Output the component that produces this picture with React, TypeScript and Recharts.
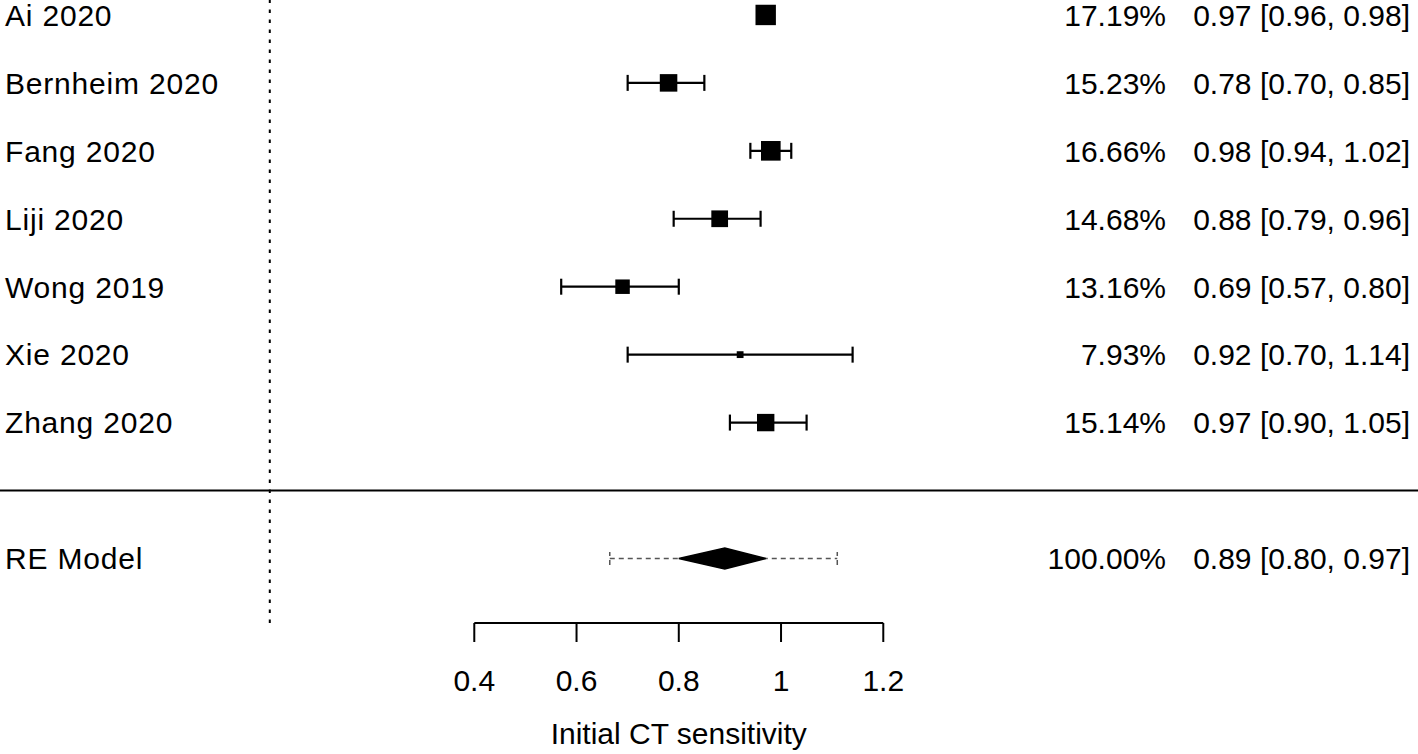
import { ScatterChart, Scatter, XAxis, YAxis, ErrorBar, ReferenceLine } from "recharts";

const studies = ["Ai 2020", "Bernheim 2020", "Fang 2020", "Liji 2020", "Wong 2019", "Xie 2020", "Zhang 2020"];
const estimates = [0.97, 0.78, 0.98, 0.88, 0.69, 0.92, 0.97];
const lowers = [0.96, 0.7, 0.94, 0.79, 0.57, 0.7, 0.9];
const uppers = [0.98, 0.85, 1.02, 0.96, 0.8, 1.14, 1.05];
const weights = [17.19, 15.23, 16.66, 14.68, 13.16, 7.93, 15.14];

const reLabel = "RE Model";
const reEstimate = 0.89;
const reLower = 0.8;
const reUpper = 0.97;
const reWeight = 100;
const predLower = 0.665;
const predUpper = 1.11;

const xTicks = [0.4, 0.6, 0.8, 1, 1.2];
const axisTitle = "Initial CT sensitivity";

const FONT = "'Liberation Sans', Arial, sans-serif";
const Y_MIN = -1.95;
const Y_MAX = 7.22;

const minW = Math.min(...weights);
const maxW = Math.max(...weights);

const studyRows = studies.map((name, i) => ({
  name,
  x: estimates[i],
  y: studies.length - i,
  lo: lowers[i],
  hi: uppers[i],
  weight: weights[i],
  err: [estimates[i] - lowers[i], uppers[i] - estimates[i]],
  // point size like metafor: scaled weights into [0.5, 1.5]
  psize: 0.5 + (weights[i] - minW) / (maxW - minW),
}));

const reRow = [
  {
    name: reLabel,
    x: reEstimate,
    y: -1,
    lo: reLower,
    hi: reUpper,
    weight: reWeight,
    err: [reEstimate - predLower, predUpper - reEstimate],
  },
];

const diamond = [
  { x: reLower, y: -1 },
  { x: reEstimate, y: -1 },
  { x: reUpper, y: -1 },
];

function RowText({ cy, row }: any) {
  const ci = `${row.x.toFixed(2)} [${row.lo.toFixed(2)}, ${row.hi.toFixed(2)}]`;
  return (
    <g fontFamily={FONT} fontSize={30} fill="#000">
      <text x={5} y={cy} dy="0.36em" letterSpacing={0.8}>{row.name}</text>
      <text x={1166} y={cy} dy="0.36em" textAnchor="end">{`${row.weight.toFixed(2)}%`}</text>
      <text x={1410} y={cy} dy="0.36em" textAnchor="end">{ci}</text>
    </g>
  );
}

function StudyShape(props: any) {
  const { cx, cy, payload } = props;
  const s = payload.psize * 13.6;
  return (
    <g>
      <rect x={cx - s / 2} y={cy - s / 2} width={s} height={s} fill="#000" />
      <RowText cy={cy} row={payload} />
    </g>
  );
}

function DiamondLine(props: any) {
  const pts = [...(props.points || [])].sort((a: any, b: any) => a.x - b.x);
  if (pts.length < 3) return <g />;
  const [l, m, r] = pts;
  const h = 10.5;
  const d = `M${l.x},${l.y} L${m.x},${m.y - h} L${r.x},${r.y} L${m.x},${m.y + h} Z`;
  return <path d={d} fill="#000" stroke="#000" strokeWidth={1.5} />;
}

export default function App() {
  return (
    <div style={{ width: 1418, height: 754 }}>
      <style>{"body{margin:0;background:#fff}"}</style>
      <ScatterChart width={1418} height={754} margin={{ top: 0, right: 0, bottom: 0, left: 0 }}>
        <XAxis
          type="number"
          dataKey="x"
          domain={[-0.5277, 2.2459]}
          allowDataOverflow
          ticks={xTicks}
          height={131}
          axisLine={false}
          tickLine={{ stroke: "#000", strokeWidth: 2 }}
          tickSize={19}
          tickMargin={28}
          tick={{ fontSize: 30, fill: "#000", fontFamily: FONT }}
          interval={0}
        />
        <YAxis type="number" dataKey="y" domain={[Y_MIN, Y_MAX]} allowDataOverflow hide width={0} />
        <ReferenceLine x={0} stroke="#000" strokeWidth={2} strokeDasharray="3.5 6.5" />
        <ReferenceLine y={0} stroke="#000" strokeWidth={2} />
        <ReferenceLine
          segment={[
            { x: xTicks[0], y: Y_MIN },
            { x: xTicks[xTicks.length - 1], y: Y_MIN },
          ]}
          stroke="#000"
          strokeWidth={2}
          ifOverflow="visible"
          label={{ value: axisTitle, position: "bottom", offset: 100, fontSize: 30, fill: "#000", fontFamily: FONT }}
        />
        <Scatter data={studyRows} shape={StudyShape} isAnimationActive={false}>
          <ErrorBar dataKey="err" direction="x" width={8} stroke="#000" strokeWidth={2.2} />
        </Scatter>
        <Scatter
          data={reRow}
          shape={(p: any) => <RowText cy={p.cy} row={p.payload} />}
          isAnimationActive={false}
        >
          <ErrorBar dataKey="err" direction="x" width={6.5} stroke="#555" strokeWidth={1.5} strokeDasharray="5 4" />
        </Scatter>
        <Scatter
          data={diamond}
          shape={() => <g />}
          line={DiamondLine}
          lineType="joint"
          isAnimationActive={false}
        />
      </ScatterChart>
    </div>
  );
}
